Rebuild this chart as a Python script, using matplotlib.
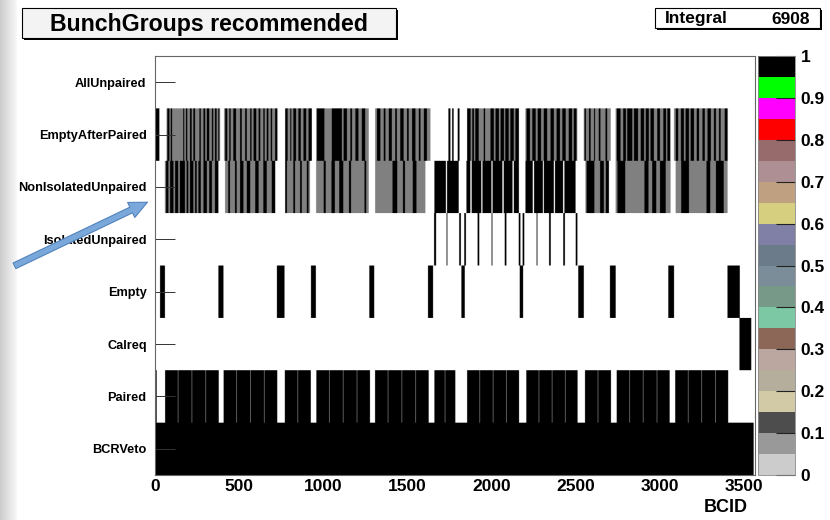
import numpy as np
import matplotlib
matplotlib.use("Agg")
import matplotlib.pyplot as plt
from matplotlib.colors import ListedColormap, Normalize
from matplotlib.cm import ScalarMappable
from matplotlib.patches import Rectangle, FancyArrowPatch

# ---------------- data ----------------
row_labels = ["BCRVeto", "Paired", "Calreq", "Empty", "IsolatedUnpaired",
              "NonIsolatedUnpaired", "EmptyAfterPaired", "AllUnpaired"]
n_bcid = 3564
x_ticks = [0, 500, 1000, 1500, 2000, 2500, 3000, 3500]
cbar_ticks = [0, 0.1, 0.2, 0.3, 0.4, 0.5, 0.6, 0.7, 0.8, 0.9, 1]
cbar_ticklabels = ["0", "0.1", "0.2", "0.3", "0.4", "0.5", "0.6", "0.7", "0.8", "0.9", "1"]
integral_value = 6908

# BCID intervals (start inclusive, end exclusive) where each bunch group is set
bcrveto = [(0, 3550)]
paired = [(1, 10),
          (60, 136), (138, 218), (220, 300), (302, 378),
          (407, 483), (485, 565), (567, 647), (649, 725),
          (770, 846), (848, 924),
          (957, 1033), (1035, 1115), (1117, 1197), (1199, 1275),
          (1305, 1381), (1383, 1463), (1465, 1545), (1547, 1623),
          (1657, 1719), (1721, 1781),
          (1851, 1925), (1927, 2004), (2006, 2083), (2085, 2159),
          (2202, 2276), (2278, 2354), (2356, 2432), (2434, 2506),
          (2550, 2626), (2628, 2704),
          (2738, 2814), (2816, 2894), (2896, 2976), (2978, 3052),
          (3085, 3161), (3163, 3241), (3243, 3323), (3325, 3399)]
calreq = [(3466, 3536)]
empty = [(30, 59), (376, 406), (723, 768), (925, 954), (1271, 1300), (1619, 1649),
         (1817, 1837), (2163, 2183), (2510, 2543), (2698, 2732), (3044, 3078),
         (3395, 3468)]
isolated_unpaired = [(1655, 1667), (1729, 1734), (1804, 1814), (1834, 1844),
                     (1913, 1923), (1996, 2001), (2074, 2084), (2157, 2167),
                     (2180, 2190), (2263, 2268), (2337, 2347), (2421, 2431),
                     (2495, 2505)]
# regions filled every second BCID (50 ns spacing) -> grey look
nonisolated_striped = [(59, 376), (416, 713), (772, 920), (956, 1267), (1306, 1603),
                       (2553, 2692), (2732, 3058), (3088, 3395)]
nonisolated_solid = [(65, 79), (89, 109), (119, 138), (148, 178), (188, 198), (208, 227),
                     (238, 248), (257, 271), (287, 307), (322, 337), (356, 376),
                     (435, 445), (475, 485), (505, 524), (544, 564), (594, 614),
                     (643, 663), (693, 713),
                     (772, 782), (821, 831), (861, 871), (901, 910),
                     (1000, 1012), (1047, 1066), (1093, 1116), (1150, 1162), (1242, 1253),
                     (1409, 1436), (1471, 1482), (1528, 1551),
                     (1657, 1725), (1732, 1801),
                     (1847, 1870), (1878, 1935), (1942, 1995), (2002, 2060),
                     (2068, 2120), (2128, 2158),
                     (2197, 2240), (2248, 2300), (2306, 2365), (2372, 2420), (2428, 2494),
                     (2559, 2605), (2640, 2662), (2673, 2692),
                     (2742, 2788), (2903, 2926), (2949, 2972), (2995, 3029),
                     (3121, 3166), (3270, 3292), (3327, 3372)]
emptyafter_striped = [(69, 386), (410, 726), (772, 930), (956, 1267), (1306, 1633),
                      (1851, 2158), (2197, 2504), (2543, 2702), (2732, 3058),
                      (3078, 3398)]
emptyafter_solid = [(0, 26),
                    (73, 85), (93, 101), (168, 174), (184, 192), (208, 218), (228, 238),
                    (263, 271), (287, 297), (307, 322), (337, 346), (356, 366), (376, 382),
                    (416, 429), (441, 449), (465, 481), (505, 515), (534, 544), (564, 572),
                    (584, 600), (614, 624), (643, 651), (663, 673), (687, 695), (713, 726),
                    (772, 786), (802, 809), (821, 837), (851, 865), (881, 897), (910, 930),
                    (960, 1004), (1049, 1108), (1118, 1138), (1158, 1168), (1188, 1207),
                    (1227, 1247),
                    (1316, 1336), (1356, 1366), (1386, 1405), (1425, 1435), (1455, 1475),
                    (1495, 1504), (1524, 1544), (1564, 1574), (1594, 1613),
                    (1740, 1752), (1762, 1771), (1795, 1806),
                    (1851, 1871), (1881, 1891), (1900, 1920), (1950, 1958), (1989, 2009),
                    (2019, 2039), (2049, 2069), (2078, 2098), (2108, 2128), (2138, 2158),
                    (2203, 2223), (2237, 2257), (2270, 2290), (2306, 2326), (2346, 2365),
                    (2381, 2401), (2415, 2435), (2454, 2474), (2484, 2500),
                    (2547, 2555), (2573, 2583), (2603, 2609), (2632, 2642), (2672, 2682),
                    (2738, 2761), (2777, 2793), (2801, 2831), (2841, 2864), (2880, 2900),
                    (2910, 2929), (2939, 2959), (2979, 2995), (3015, 3031), (3039, 3054),
                    (3088, 3102), (3118, 3137), (3147, 3167), (3177, 3197), (3213, 3226),
                    (3246, 3260), (3276, 3296), (3315, 3327), (3345, 3355), (3379, 3395)]
all_unpaired = []

palette = ["#cccccc", "#999999", "#4d4d4d", "#d2caa6", "#b6ae9c", "#bca6a0",
           "#8c6656", "#7cc8a4", "#779a88", "#7a8d99", "#6b7b89", "#8080a6",
           "#d5cf7f", "#bfa080", "#ad8f94", "#976a6c", "#ff0000", "#ff00ff",
           "#00ff00", "#000000"]

# ---------------- build histogram ----------------
grid = np.zeros((len(row_labels), n_bcid))


def fill(row, intervals, step=1):
    for a, b in intervals:
        grid[row, a:b:step] = 1


fill(0, bcrveto)
fill(1, paired)
fill(2, calreq)
fill(3, empty)
fill(4, isolated_unpaired)
fill(5, nonisolated_striped, 2)
fill(5, nonisolated_solid)
fill(6, emptyafter_striped, 2)
fill(6, emptyafter_solid)
fill(7, all_unpaired)

rep = 60
img = np.ma.masked_equal(np.repeat(grid, rep, axis=0), 0)

# ---------------- figure ----------------
W, H = 830, 520
fig = plt.figure(figsize=(W / 100, H / 100), dpi=100)
fig.patch.set_facecolor("white")
FONT = "Liberation Sans"


def fx(px):
    return px / W


def fy(py):
    return 1 - py / H


# left grey slide strip
strip = fig.add_axes([0, 0, fx(16), 1])
strip.imshow(np.linspace(0.80, 0.97, 32)[None, :], cmap="gray", vmin=0, vmax=1,
             aspect="auto", extent=(0, 1, 0, 1))
strip.axis("off")

cmap = ListedColormap(palette)
norm = Normalize(0, 1)

ax = fig.add_axes([fx(155), fy(475), fx(755 - 155), (475 - 56) / H])
ax.imshow(img, cmap=cmap, norm=norm, aspect="auto", origin="lower",
          extent=(0, n_bcid, -0.5, len(row_labels) - 0.5),
          interpolation="antialiased", interpolation_stage="rgba")
ax.set_xlim(0, n_bcid)
ax.set_ylim(-0.5, len(row_labels) - 0.5)
ax.set_yticks(range(len(row_labels)))
ax.set_yticklabels(row_labels, fontsize=9.2, fontweight="bold", family=FONT)
ax.set_xticks(x_ticks)
ax.set_xticklabels([str(v) for v in x_ticks], fontsize=12.5, fontweight="bold", family=FONT)
ax.tick_params(axis="y", direction="in", length=14.5, width=0.7, color="#333333", pad=6)
ax.tick_params(axis="x", direction="in", length=8, width=0.7, pad=3)
for s in ax.spines.values():
    s.set_linewidth(0.8)
    s.set_color("#666666")

fig.text(fx(748), fy(507), "BCID", ha="right", va="center", fontsize=13,
         fontweight="bold", family=FONT)

# colour bar
cax = fig.add_axes([fx(758), fy(475), fx(795 - 758), (475 - 56) / H])
cb = fig.colorbar(ScalarMappable(norm=norm, cmap=cmap), cax=cax, ticks=cbar_ticks)
cb.ax.set_yticklabels(cbar_ticklabels, fontsize=12.5, fontweight="bold", family=FONT)
cb.ax.tick_params(direction="in", length=14, width=0.8, pad=4, color="#222222")
cb.outline.set_linewidth(0.6)
cb.outline.set_edgecolor("#888888")

# title box with shadow
tx0, ty0, tx1, ty1 = 22, 8, 396, 38
fig.patches.append(Rectangle((fx(tx0 + 2), fy(ty1 + 2)), fx(tx1 - tx0), (ty1 - ty0) / H,
                             transform=fig.transFigure, facecolor="black", edgecolor="none"))
fig.patches.append(Rectangle((fx(tx0), fy(ty1)), fx(tx1 - tx0), (ty1 - ty0) / H,
                             transform=fig.transFigure, facecolor="#f3f3f3",
                             edgecolor="black", linewidth=0.8))
fig.text(fx((tx0 + tx1) / 2), fy((ty0 + ty1) / 2 + 1), "BunchGroups recommended",
         ha="center", va="center", fontsize=16.7, fontweight="bold", family=FONT)

# stats box
sx0, sy0, sx1, sy1 = 655, 8, 820, 28
fig.patches.append(Rectangle((fx(sx0 + 2), fy(sy1 + 2)), fx(sx1 - sx0), (sy1 - sy0) / H,
                             transform=fig.transFigure, facecolor="black", edgecolor="none"))
fig.patches.append(Rectangle((fx(sx0), fy(sy1)), fx(sx1 - sx0), (sy1 - sy0) / H,
                             transform=fig.transFigure, facecolor="white",
                             edgecolor="black", linewidth=0.8))
fig.text(fx(665), fy(23.5), "Integral", ha="left", va="baseline", fontsize=12.5,
         fontweight="bold", family=FONT)
fig.text(fx(810), fy(23.5), str(integral_value), ha="right", va="baseline", fontsize=12.5,
         fontweight="bold", family=FONT)

# blue pointer arrow
arrow = FancyArrowPatch((fx(12), fy(267)), (fx(150), fy(201)), transform=fig.transFigure,
                        arrowstyle="simple,head_length=13,head_width=12,tail_width=4.5",
                        facecolor="#7ba8da", edgecolor="#5283bd", linewidth=0.8,
                        mutation_scale=1)
fig.patches.append(arrow)

fig.savefig("out.png", dpi=100)
